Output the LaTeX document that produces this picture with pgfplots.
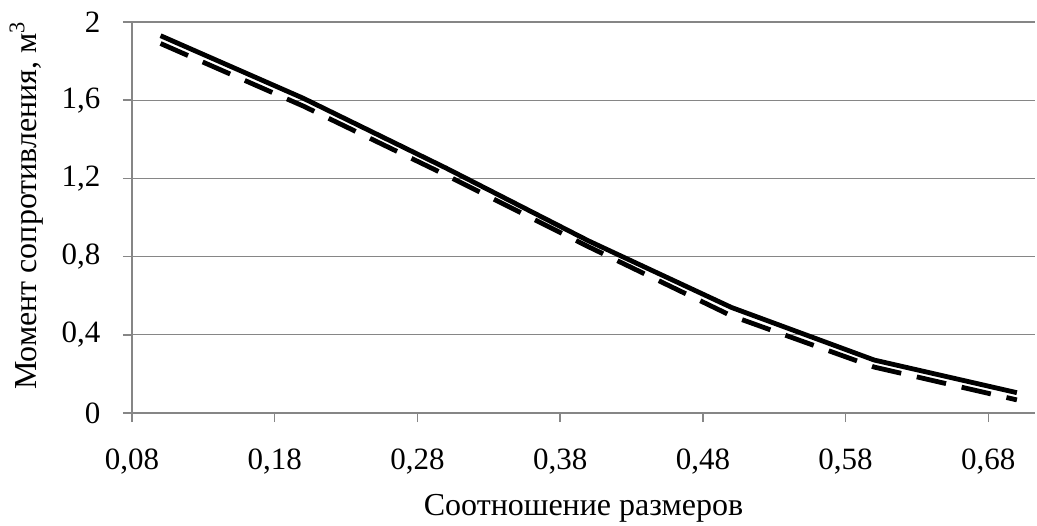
\documentclass[border=0pt]{standalone}
\usepackage{pgfplots}
\pgfplotsset{compat=1.18}
\usepackage{fontspec}
\setmainfont{Liberation Serif}
\definecolor{axgray}{RGB}{134,134,134}
\begin{document}
\fontsize{15.5pt}{18pt}\selectfont
\begin{tikzpicture}
\begin{axis}[
  scale only axis, width=451.5pt, height=195.5pt,
  at={(0,0)}, anchor=south west,
  xmin=0.08, xmax=0.7127, ymin=0, ymax=2,
  axis lines*=left,
  xtick={0.08,0.18,0.28,0.38,0.48,0.58,0.68},
  ytick={0,0.4,0.8,1.2,1.6,2},
  tick align=outside,
  major tick length=4.5pt,
  tick style={axgray, line width=0.75pt},
  axis line style={axgray, line width=1pt},
  ymajorgrids, grid style={axgray, line width=0.6pt},
  /pgf/number format/assume math mode=true,
  /pgf/number format/use comma,
  xticklabel={\pgfmathprintnumber[fixed,fixed zerofill,precision=2]{\tick}},
  yticklabel={\pgfmathprintnumber[fixed,precision=1]{\tick}},
  tick label style={font=\fontsize{15.5pt}{18pt}\selectfont, black},
  xticklabel style={yshift=-8pt},
  yticklabel style={xshift=-6pt},
  label style={font=\fontsize{16pt}{19pt}\selectfont},
  xlabel={Соотношение размеров},
  ylabel={Момент сопротивления, м\textsuperscript{3}},
  xlabel style={at={(rel axis cs:0.5,0)}, anchor=base, yshift=-51pt},
  ylabel style={at={(rel axis cs:0,0.531)}, anchor=base, yshift=47.5pt},
]
\addplot[black, line width=2.4pt, line join=round] coordinates {
 (0.1,1.93) (0.2,1.61) (0.3,1.253) (0.4,0.88) (0.5,0.54) (0.6,0.271) (0.7,0.104)};
\addplot[black, line width=2.4pt, line cap=butt, dash pattern=on 15pt off 8pt] coordinates {
 (0.1,1.89) (0.2,1.57) (0.3,1.217) (0.4,0.85) (0.5,0.497) (0.6,0.235) (0.7,0.067)};
\end{axis}
\pgfresetboundingbox
\path (-66pt,-56pt) rectangle (452.5pt,206.5pt);
\end{tikzpicture}
\end{document}
